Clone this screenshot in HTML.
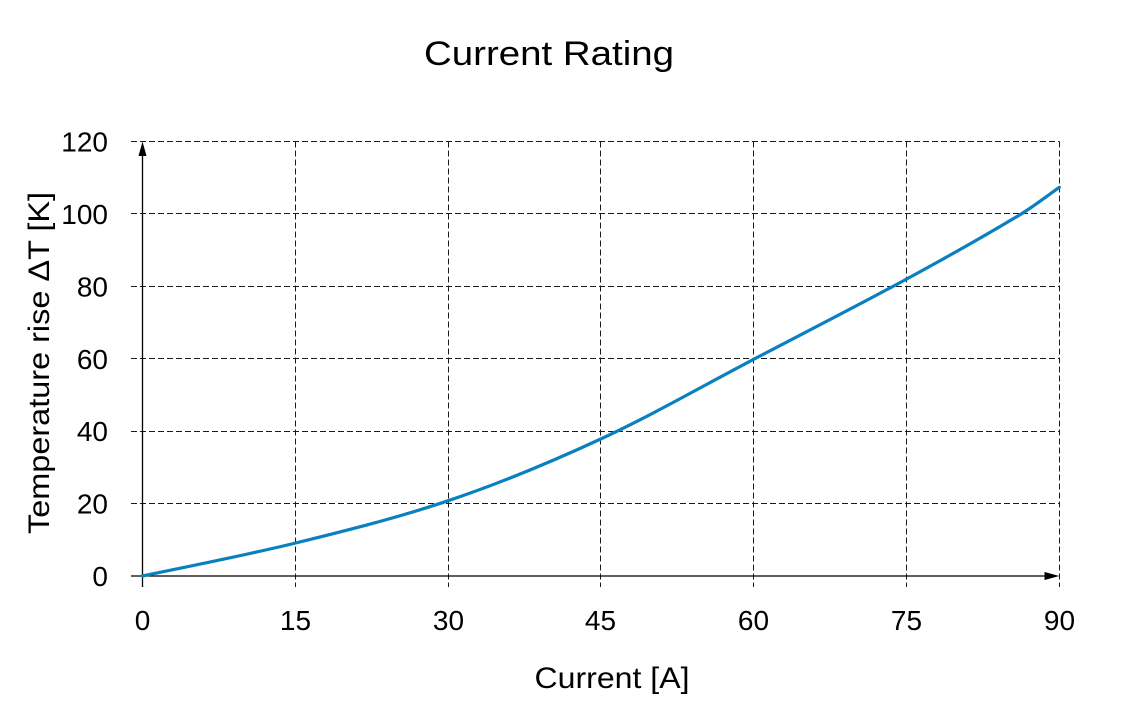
<!DOCTYPE html>
<html>
<head>
<meta charset="utf-8">
<style>
html,body{margin:0;padding:0;background:#fff;}
svg{display:block;}
text{font-family:"Liberation Sans",sans-serif;fill:#000;}
</style>
</head>
<body>
<svg width="1123" height="726" viewBox="0 0 1123 726" xmlns="http://www.w3.org/2000/svg">
  <rect width="1123" height="726" fill="#fff"/>
  <!-- title -->
  <text x="549" y="65" font-size="34" text-anchor="middle" textLength="250" lengthAdjust="spacingAndGlyphs">Current Rating</text>

  <!-- grid horizontal -->
  <g stroke="#1a1a1a" stroke-width="1" stroke-dasharray="6,3" fill="none">
    <line x1="131" y1="141.5" x2="1059.5" y2="141.5"/>
    <line x1="131" y1="213.5" x2="1059.5" y2="213.5"/>
    <line x1="131" y1="286.5" x2="1059.5" y2="286.5"/>
    <line x1="131" y1="358.5" x2="1059.5" y2="358.5"/>
    <line x1="131" y1="431.5" x2="1059.5" y2="431.5"/>
    <line x1="131" y1="503.5" x2="1059.5" y2="503.5"/>
    <!-- vertical -->
    <line x1="295.5" y1="141.5" x2="295.5" y2="587"/>
    <line x1="448.5" y1="141.5" x2="448.5" y2="587"/>
    <line x1="600.5" y1="141.5" x2="600.5" y2="587"/>
    <line x1="753.5" y1="141.5" x2="753.5" y2="587"/>
    <line x1="906.5" y1="141.5" x2="906.5" y2="587"/>
    <line x1="1059.5" y1="141.5" x2="1059.5" y2="587"/>
  </g>

  <!-- axes -->
  <g stroke="#000" stroke-width="1.3" fill="none">
    <line x1="142.5" y1="587" x2="142.5" y2="150"/>
    <line x1="131" y1="576" x2="1050" y2="576"/>
  </g>
  <polygon points="142.5,141.5 138.5,156 146.5,156" fill="#000"/>
  <polygon points="1059.3,576 1044.5,572 1044.5,580" fill="#000"/>

  <!-- curve -->
  <path d="M142.5,576 C168,570.5 244.7,555.5 295.7,543 C346.7,530.5 397.5,517.8 448.3,500.7 C499.1,483.6 549.8,462.6 600.7,439 C651.6,415.4 702.7,386 753.7,359.3 C804.7,332.6 855.7,306.7 906.7,279 C944.5,258.5 982.2,237.4 1020,214.7 C1033.1,206.8 1046.2,196.7 1059.3,187.3" fill="none" stroke="#0a80c0" stroke-width="3.2" stroke-linecap="round"/>

  <!-- y tick labels -->
  <g font-size="28" text-anchor="end">
    <text x="108" y="586">0</text>
    <text x="108" y="513.6">20</text>
    <text x="108" y="441.2">40</text>
    <text x="108" y="368.8">60</text>
    <text x="108" y="296.3">80</text>
    <text x="108" y="223.9">100</text>
    <text x="108" y="151.5">120</text>
  </g>

  <!-- x tick labels -->
  <g font-size="28" text-anchor="middle">
    <text x="142.5" y="630">0</text>
    <text x="295.5" y="630">15</text>
    <text x="448.5" y="630">30</text>
    <text x="600.5" y="630">45</text>
    <text x="753.5" y="630">60</text>
    <text x="906.5" y="630">75</text>
    <text x="1059.5" y="630">90</text>
  </g>

  <!-- axis titles -->
  <text x="612" y="688" font-size="30" text-anchor="middle" textLength="155" lengthAdjust="spacingAndGlyphs">Current [A]</text>
  <text transform="translate(49,363) rotate(-90)" x="0" y="0" font-size="30" text-anchor="middle" textLength="342" lengthAdjust="spacingAndGlyphs">Temperature rise ΔT [K]</text>
</svg>
</body>
</html>
